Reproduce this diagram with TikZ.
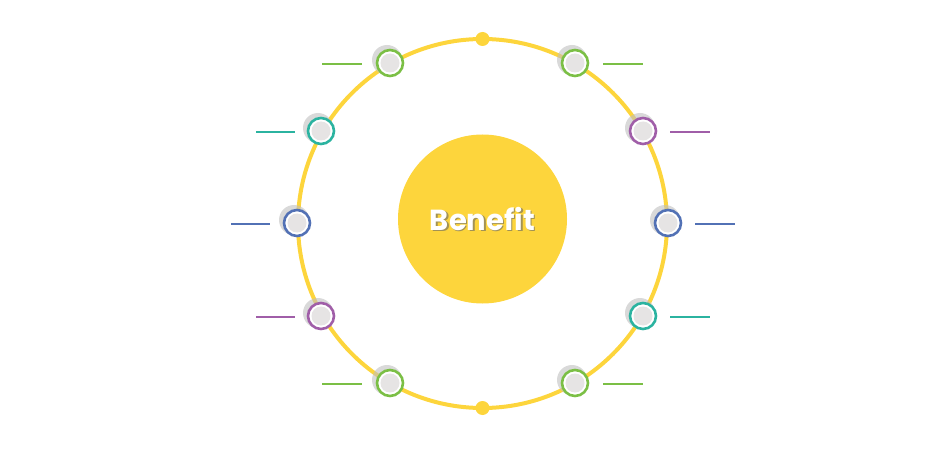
\documentclass[tikz,border=0pt]{standalone}
\usepackage{fontspec}
\setmainfont{Poppins}
\usetikzlibrary{positioning}
\definecolor{sunny}{HTML}{FDD53C}
\definecolor{leaf}{HTML}{7BBF45}
\definecolor{sea}{HTML}{2BB3A0}
\definecolor{ocean}{HTML}{5271B5}
\definecolor{plum}{HTML}{A05EA8}
\definecolor{pearl}{HTML}{E6E4E4}
\tikzset{
  dot/.style = {circle, minimum size=26pt, inner sep=0pt, line width=2.6pt, fill=white,
    draw=#1, path picture={\fill[pearl] (path picture bounding box.center) circle (9.5pt);}},
  tick/.style = {line width=1.6pt, draw=#1}
}
\begin{document}
\begin{tikzpicture}[x=1pt, y=-1pt]
\useasboundingbox (0,0) rectangle (950,449);
\draw[sunny, line width=4pt] (482.5,223.5) circle (184.5pt);
\fill[sunny] (482.5,39) circle (7pt);
\fill[sunny] (482.5,408) circle (7pt);
\node[circle, fill=sunny, minimum size=169pt, inner sep=0pt] (hub) at (482.5,219) {};
\node[text=black!60, opacity=0.6, font=\bfseries\fontsize{29}{29}\selectfont] at ([xshift=1.5pt,yshift=-1.5pt]hub) {Benefit};
\node[text=white, font=\bfseries\fontsize{29}{29}\selectfont] (title) at (hub) {Benefit};
% small rings: x, y, colour, tick start, tick end
\foreach \x/\y/\c/\a/\b [count=\i] in {
  390/63/leaf/322/362, 575/63/leaf/603/643,
  643/131/plum/670/710, 668/223/ocean/695/735,
  643/316/sea/670/710, 575/383/leaf/603/643,
  390/383/leaf/322/362, 321/316/plum/256/295,
  297/223/ocean/231/270, 321/131/sea/256/295} {
  \fill[black!25, opacity=0.6] (\x-3,\y-3) circle (15pt);
  \node[dot=\c] (ring\i) at (\x,\y) {};
  \draw[tick=\c] (\a,\y+1) -- (\b,\y+1);
}
\end{tikzpicture}
\end{document}
